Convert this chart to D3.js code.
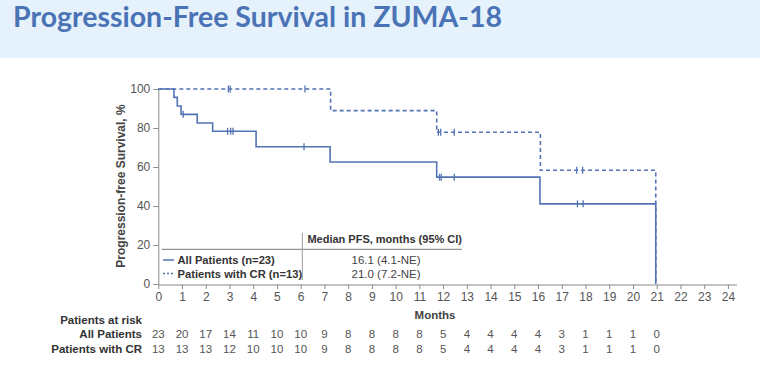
<!DOCTYPE html>
<html>
<head>
<meta charset="utf-8">
<script src="https://cdn.jsdelivr.net/npm/d3@7"></script>
<style>
  body { margin: 0; background: #fff; }
  svg { display: block; font-family: Arial, "Liberation Sans", sans-serif; }
</style>
</head>
<body>
<svg id="chart" width="760" height="367"></svg>
<script>
// KM steps: [month, % progression-free]
var allSteps = [[0,100],[0.66,95.7],[0.8,91.3],[0.96,87.0],[1.64,82.6],[2.29,78.3],[4.12,70.4],[7.24,62.6],[11.73,54.8],[16.08,41.1],[20.96,0]];
var allCensor = [1.05, 2.92, 3.05, 3.15, 6.14, 11.85, 11.92, 12.47, 17.66, 17.9];
var crSteps = [[0,100],[7.26,88.9],[11.73,77.8],[16.1,58.3],[20.96,0]];
var crCensor = [2.95, 3.03, 6.18, 11.8, 11.9, 12.47, 17.63, 17.88];

var xTicks = d3.range(0, 25);
var yTicks = [0, 20, 40, 60, 80, 100];

var riskMonths = d3.range(0, 22);
var riskAll = [23,20,17,14,11,10,10,9,8,8,8,8,5,4,4,4,4,3,1,1,1,0];
var riskCR  = [13,13,13,12,10,10,10,9,8,8,8,8,5,4,4,4,4,3,1,1,1,0];

var legendRows = ["All Patients (n=23)", "Patients with CR (n=13)"];
var medians = ["16.1 (4.1-NE)", "21.0 (7.2-NE)"];

var blue = "#5273b4";
var svg = d3.select("#chart");

// header band
svg.append("rect").attr("x", 0).attr("y", 0).attr("width", 760).attr("height", 58)
  .attr("fill", "#e5f1fb");
svg.append("text").attr("x", 13).attr("y", 27)
  .attr("font-family", "Lato, 'Open Sans', sans-serif").attr("font-weight", 700)
  .attr("font-size", 28).attr("fill", "#4a73b6")
  .attr("textLength", 489).attr("lengthAdjust", "spacingAndGlyphs")
  .text("Progression-Free Survival in ZUMA-18");

var x = d3.scaleLinear().domain([0, 24]).range([158.3, 727.9]);
var y = d3.scaleLinear().domain([0, 100]).range([284, 89]);

// axes
var axisCol = "#8a8a8a";
var gx = svg.append("g").attr("transform", "translate(0,285)")
  .call(d3.axisBottom(x).tickValues(xTicks).tickSize(4).tickPadding(3).tickSizeOuter(0));
gx.select(".domain").attr("d", "M158.3,0H737");
var gy = svg.append("g").attr("transform", "translate(158.3,0)")
  .call(d3.axisLeft(y).tickValues(yTicks).tickSize(5).tickPadding(3).tickSizeOuter(0));
[gx, gy].forEach(function(g) {
  g.select(".domain").attr("stroke", axisCol);
  g.selectAll(".tick line").attr("stroke", axisCol);
  g.selectAll("text").attr("font-size", 12).attr("fill", "#555")
    .attr("font-family", "Arial, 'Liberation Sans', sans-serif");
});

svg.append("text").attr("transform", "translate(125,186) rotate(-90)")
  .attr("text-anchor", "middle").attr("font-size", 12).attr("font-weight", "bold")
  .attr("fill", "#444").text("Progression-free Survival, %");
svg.append("text").attr("x", 435).attr("y", 319).attr("text-anchor", "middle")
  .attr("font-size", 11.5).attr("font-weight", "bold").attr("fill", "#444").text("Months");

// curves
var line = d3.line().x(function(d) { return x(d[0]); }).y(function(d) { return y(d[1]); })
  .curve(d3.curveStepAfter);

function survAt(steps, t) {
  var v = steps[0][1];
  steps.forEach(function(s) { if (s[0] <= t) v = s[1]; });
  return v;
}

function drawCurve(steps, censor, dash) {
  svg.append("path").datum(steps).attr("d", line).attr("fill", "none")
    .attr("stroke", blue).attr("stroke-width", 1.6).attr("stroke-dasharray", dash);
  svg.selectAll(null).data(censor).enter().append("line")
    .attr("x1", function(d) { return x(d); }).attr("x2", function(d) { return x(d); })
    .attr("y1", function(d) { return y(survAt(steps, d)) - 3.5; })
    .attr("y2", function(d) { return y(survAt(steps, d)) + 3.5; })
    .attr("stroke", blue).attr("stroke-width", 1.3);
}
drawCurve(crSteps, crCensor, "4,3");
drawCurve(allSteps, allCensor, null);

// median table / legend
var tbl = svg.append("g").attr("fill", "#333");
tbl.append("line").attr("x1", 161.7).attr("x2", 461.7).attr("y1", 249.3).attr("y2", 249.3)
  .attr("stroke", "#777").attr("stroke-width", 1);
tbl.append("line").attr("x1", 302.3).attr("x2", 302.3).attr("y1", 232.7).attr("y2", 280)
  .attr("stroke", "#999").attr("stroke-width", 1);
tbl.append("text").attr("x", 384.7).attr("y", 243).attr("text-anchor", "middle")
  .attr("font-size", 11).attr("font-weight", "bold").attr("fill", "#333")
  .text("Median PFS, months (95% CI)");
legendRows.forEach(function(label, i) {
  var yy = 260 + i * 13.5;
  tbl.append("line").attr("x1", 163).attr("x2", 174).attr("y1", yy).attr("y2", yy)
    .attr("stroke", blue).attr("stroke-width", 1.5).attr("stroke-dasharray", i ? "2,2" : null);
  tbl.append("text").attr("x", 177.5).attr("y", yy + 4).attr("font-size", 11.2)
    .attr("font-weight", "bold").attr("fill", "#333").text(label);
  tbl.append("text").attr("x", 386).attr("y", yy + 4).attr("text-anchor", "middle")
    .attr("font-size", 11.5).attr("fill", "#444").text(medians[i]);
});

// patients at risk
var risk = svg.append("g").attr("font-size", 11.5);
risk.append("text").attr("x", 142).attr("y", 324).attr("text-anchor", "end")
  .attr("font-weight", "bold").attr("fill", "#333").text("Patients at risk");
[["All Patients", riskAll, 338], ["Patients with CR", riskCR, 353]].forEach(function(r) {
  risk.append("text").attr("x", 142).attr("y", r[2]).attr("text-anchor", "end")
    .attr("font-weight", "bold").attr("fill", "#333").text(r[0]);
  risk.selectAll(null).data(riskMonths).enter().append("text")
    .attr("x", function(m) { return x(m); }).attr("y", r[2]).attr("text-anchor", "middle")
    .attr("fill", "#555").text(function(m, i) { return r[1][i]; });
});
</script>
</body>
</html>
